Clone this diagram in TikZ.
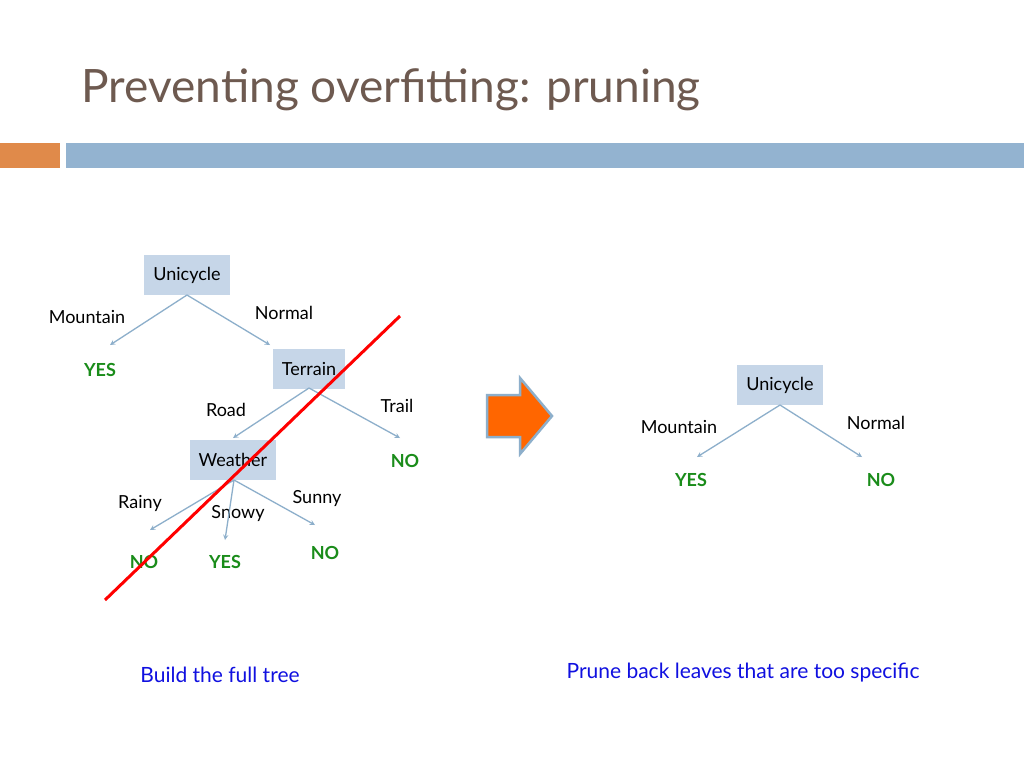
\documentclass[tikz,border=0pt]{standalone}
\usepackage{fontspec}
\setmainfont{Lato}
\definecolor{boxc}{HTML}{C6D6E8}
\definecolor{edgec}{HTML}{8DAFCB}
\definecolor{leafc}{HTML}{1A8C1A}
\definecolor{capc}{HTML}{1010E0}
\definecolor{titc}{HTML}{6E5A50}
\definecolor{barO}{HTML}{E08A4A}
\definecolor{barB}{HTML}{93B3D0}
\definecolor{arrO}{HTML}{FF6600}
\begin{document}
\begin{tikzpicture}[x=1pt,y=-1pt,
  box/.style={fill=boxc,minimum height=40pt,inner xsep=9pt,font=\fontsize{18}{20}\selectfont},
  lab/.style={font=\fontsize{18}{20}\selectfont},
  leaf/.style={font=\bfseries\fontsize{18}{20}\selectfont,text=leafc},
  edge/.style={draw=edgec,line width=1.3pt,->,>=stealth},
  captext/.style={font=\fontsize{21}{24}\selectfont,text=capc}]
\useasboundingbox (0,0) rectangle (1024,768);
\fill[white] (0,0) rectangle (1024,768);
\node[anchor=base west,text=titc,font=\fontsize{46}{50}\selectfont] (title) at (78,102) {Preventing overfitting: pruning};
\fill[barO] (0,143) rectangle (60,168);
\fill[barB] (66,143) rectangle (1024,168);
% left tree
\node[box] (u) at (187,275) {Unicycle};
\node[lab] (m) at (87,317) {Mountain};
\node[lab] (n) at (284,313) {Normal};
\node[leaf] (y1) at (100,370) {YES};
\node[box] (t) at (309,369) {Terrain};
\node[lab] (r) at (226,410) {Road};
\node[lab] (tr) at (397,406) {Trail};
\node[box] (w) at (233,460) {Weather};
\node[leaf] (n1) at (405,461) {NO};
\node[lab] (ra) at (140,503) {Rainy};
\node[lab] (sn) at (238,514) {Snowy};
\node[lab] (su) at (317,499) {Sunny};
\node[leaf] (n2) at (144,562) {NO};
\node[leaf] (y2) at (225,562) {YES};
\node[leaf] (n3) at (325,553) {NO};
\coordinate (ub) at (187,295); \coordinate (tb) at (309,388); \coordinate (wb) at (234,480);
\draw[edge] (ub) -- (110,345);
\draw[edge] (ub) -- (270,345);
\draw[edge] (tb) -- (233,438);
\draw[edge] (tb) -- (400,438);
\draw[edge] (wb) -- (150,530);
\draw[edge] (wb) -- (225,540);
\draw[edge] (wb) -- (315,525);
\coordinate (ra1) at (400,316); \coordinate (ra2) at (105,600);
\draw[red,line width=3pt] (ra1) -- (ra2);
% block arrow
\draw[fill=arrO,draw=edgec,line width=2.5pt,line join=miter]
  (487,395) -- (520,395) -- (520,378) -- (552,416) -- (520,454) -- (520,437) -- (487,437) -- cycle;
% right tree
\node[box] (u2) at (780,385) {Unicycle};
\node[lab] (m2) at (679,427) {Mountain};
\node[lab] (n4) at (876,423) {Normal};
\node[leaf] (y3) at (691,480) {YES};
\node[leaf] (n5) at (881,480) {NO};
\coordinate (u2b) at (780,405);
\draw[edge] (u2b) -- (697,457);
\draw[edge] (u2b) -- (862,457);
\node[captext] (c1) at (220,675) {Build the full tree};
\node[captext] (c2) at (743,673) {Prune back leaves that are too specific};
\end{tikzpicture}
\end{document}
